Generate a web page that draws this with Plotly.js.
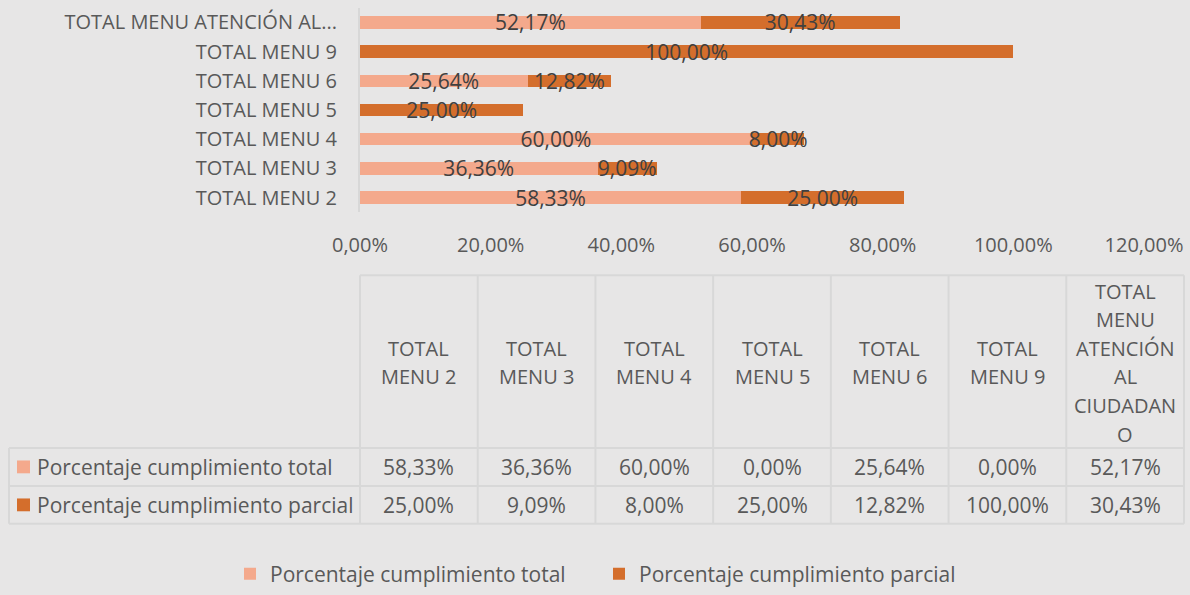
<!DOCTYPE html>
<html>
<head>
<meta charset="utf-8">
<script src="https://cdn.plot.ly/plotly-3.0.1.min.js"></script>
<style>
  html, body { margin: 0; padding: 0; background: #E7E6E6; }
  #chart { width: 1190px; height: 595px; }
</style>
</head>
<body>
<div id="chart"></div>
<script>
// ---- data ----
const categories = ['TOTAL MENU 2', 'TOTAL MENU 3', 'TOTAL MENU 4', 'TOTAL MENU 5', 'TOTAL MENU 6', 'TOTAL MENU 9', 'TOTAL MENU ATENCIÓN AL CIUDADANO'];
const categoryTickText = ['TOTAL MENU 2', 'TOTAL MENU 3', 'TOTAL MENU 4', 'TOTAL MENU 5', 'TOTAL MENU 6', 'TOTAL MENU 9', 'TOTAL MENU ATENCIÓN AL...'];
const tableHeaders = ['TOTAL<br>MENU 2', 'TOTAL<br>MENU 3', 'TOTAL<br>MENU 4', 'TOTAL<br>MENU 5', 'TOTAL<br>MENU 6', 'TOTAL<br>MENU 9', 'TOTAL<br>MENU<br>ATENCIÓN<br>AL<br>CIUDADAN<br>O'];
const seriesNames = ['Porcentaje cumplimiento total', 'Porcentaje cumplimiento parcial'];
const totalValues = [58.33, 36.36, 60.00, 0.00, 25.64, 0.00, 52.17];
const partialValues = [25.00, 9.09, 8.00, 25.00, 12.82, 100.00, 30.43];
const xTickVals = [0, 20, 40, 60, 80, 100, 120];

// ---- styling ----
const FONT = 'Open Sans, Noto Sans, sans-serif';
const colors = ['#F4A98C', '#D46E2C'];
const BG = '#E7E6E6';
const GRID = '#D8D8D8';
const TXT = '#595959';
const W = 1190, H = 595;
const px = x => x / W;
const py = y => 1 - y / H;

const fmt = v => v.toFixed(2).replace('.', ',') + '%';
const seriesValues = [totalValues, partialValues];

const traces = seriesValues.map((vals, i) => ({
  type: 'bar',
  orientation: 'h',
  name: seriesNames[i],
  y: categories,
  x: vals,
  marker: { color: colors[i], line: { width: 0 } },
  text: vals.map(v => v > 0 ? fmt(v) : ''),
  textposition: 'inside',
  insidetextanchor: 'middle',
  textangle: 0,
  constraintext: 'none',
  textfont: { family: FONT, size: 21, color: '#404040' },
  hoverinfo: 'none'
}));

// ---- data table (shapes + annotations) ----
const tblLeft = 9, colStart = 360, tblRight = 1184;
const hdrTop = 279, hdrBottom = 454, row1Bottom = 492.5, row2Bottom = 531;
const nCols = categories.length;
const colW = (tblRight - colStart) / nCols;
const shapes = [];
const annotations = [];
const line = { color: GRID, width: 2 };
for (let i = 0; i <= nCols; i++) {
  const x = colStart + i * colW;
  shapes.push({ type: 'line', xref: 'paper', yref: 'paper', x0: px(x), x1: px(x), y0: py(hdrTop), y1: py(row2Bottom), line });
}
shapes.push({ type: 'line', xref: 'paper', yref: 'paper', x0: px(colStart), x1: px(tblRight), y0: py(hdrTop), y1: py(hdrTop), line });
[hdrBottom, row1Bottom, row2Bottom].forEach(y => {
  shapes.push({ type: 'line', xref: 'paper', yref: 'paper', x0: px(tblLeft), x1: px(tblRight), y0: py(y), y1: py(y), line });
});
shapes.push({ type: 'line', xref: 'paper', yref: 'paper', x0: px(tblLeft), x1: px(tblLeft), y0: py(hdrBottom), y1: py(row2Bottom), line });

const LINE_H = 29;
tableHeaders.forEach((h, i) => {
  const parts = h.split('<br>');
  const yc = (hdrTop + hdrBottom) / 2 + 1;
  parts.forEach((p, k) => {
    annotations.push({ xref: 'paper', yref: 'paper', x: px(colStart + (i + 0.5) * colW),
      y: py(yc + (k - (parts.length - 1) / 2) * LINE_H),
      text: p, showarrow: false, xanchor: 'center', yanchor: 'middle', align: 'center',
      font: { family: FONT, size: 20, color: TXT } });
  });
});
const rowBounds = [[hdrBottom, row1Bottom], [row1Bottom, row2Bottom]];
seriesValues.forEach((vals, r) => {
  const yc = (rowBounds[r][0] + rowBounds[r][1]) / 2;
  shapes.push({ type: 'rect', xref: 'paper', yref: 'paper', x0: px(17), x1: px(30), y0: py(yc - 6.5), y1: py(yc + 6.5),
    fillcolor: colors[r], line: { width: 0 } });
  annotations.push({ xref: 'paper', yref: 'paper', x: px(35), y: py(yc), text: seriesNames[r], showarrow: false,
    xanchor: 'left', yanchor: 'middle', font: { family: FONT, size: 21, color: TXT } });
  vals.forEach((v, i) => {
    annotations.push({ xref: 'paper', yref: 'paper', x: px(colStart + (i + 0.5) * colW), y: py(yc), text: fmt(v),
      showarrow: false, xanchor: 'center', yanchor: 'middle', font: { family: FONT, size: 21, color: TXT } });
  });
});

const layout = {
  width: W, height: H,
  margin: { l: 0, r: 0, t: 0, b: 0, pad: 0 },
  paper_bgcolor: BG, plot_bgcolor: BG,
  barmode: 'stack',
  bargap: 0.575,
  separators: ',.',
  font: { family: FONT, size: 20, color: TXT },
  showlegend: true,
  legend: { orientation: 'h', x: px(230), xanchor: 'left', y: py(582), yanchor: 'middle',
    entrywidth: 324, entrywidthmode: 'pixels',
    font: { family: FONT, size: 21, color: TXT }, bgcolor: 'rgba(0,0,0,0)', traceorder: 'normal', itemwidth: 30 },
  xaxis: {
    domain: [px(360), px(1144)],
    range: [0, 120],
    tickvals: xTickVals,
    ticktext: xTickVals.map(fmt),
    showgrid: false, zeroline: false, showline: false,
    ticks: '', ticklabelstandoff: 19,
    tickfont: { family: FONT, size: 20, color: TXT },
    fixedrange: true
  },
  yaxis: {
    domain: [py(215), py(8)],
    type: 'category',
    tickvals: categories,
    ticktext: categoryTickText,
    showgrid: false, zeroline: false,
    showline: true, linecolor: GRID, linewidth: 2,
    ticks: '', ticklabelstandoff: 17,
    tickfont: { family: FONT, size: 20, color: TXT },
    fixedrange: true
  },
  shapes, annotations
};

Plotly.newPlot('chart', traces, layout, { staticPlot: true, displayModeBar: false });
</script>
</body>
</html>
